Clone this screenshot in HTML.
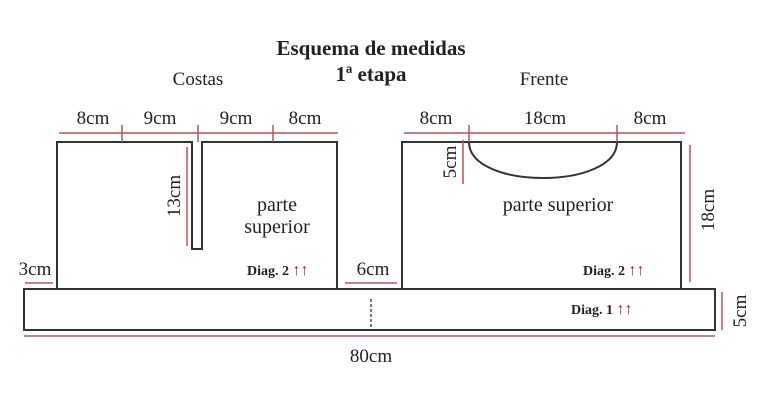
<!DOCTYPE html>
<html><head><meta charset="utf-8"><style>
html,body{margin:0;padding:0;background:#fff;width:773px;height:415px;overflow:hidden}
</style></head><body>
<svg width="773" height="415" xmlns="http://www.w3.org/2000/svg" font-family="Liberation Serif, serif">
<g fill="none" stroke="#333" stroke-width="2">
<path d="M57,289 V142 H192 V249 H202 V142 H337 V289"/>
<path d="M402,289 V142 H681 V289"/>
<rect x="24" y="289" width="691" height="41"/>
<path d="M469,142 C469,190 617,190 617,142"/>
</g>
<g stroke="#333" stroke-width="1.3" stroke-dasharray="3,2" fill="none">
<path d="M57,289 H337 M402,289 H681 M371,299 V330"/>
</g>
<g stroke="#c0505a" stroke-width="1.5" fill="none">
<path d="M59,133 H338 M122,125 V142 M198,125 V142 M273,125 V142"/>
<path d="M187,147 V246"/>
<path d="M25,283 H53 M345,283 H397"/>
<path d="M404,133 H685 M469,125 V142 M617,125 V142"/>
<path d="M463,140 V184 M690,145 V282 M722,292 V330"/>
<path d="M24,336 H715"/>
</g>
<g fill="#222" font-size="19">
<text x="371" y="55" text-anchor="middle" font-weight="bold" font-size="21">Esquema de medidas</text>
<text x="371" y="81" text-anchor="middle" font-weight="bold" font-size="21">1ª etapa</text>
<text x="198" y="85" text-anchor="middle">Costas</text>
<text x="544" y="85" text-anchor="middle">Frente</text>
<text x="93" y="124" text-anchor="middle">8cm</text>
<text x="160" y="124" text-anchor="middle">9cm</text>
<text x="236" y="124" text-anchor="middle">9cm</text>
<text x="305" y="124" text-anchor="middle">8cm</text>
<text x="436" y="124" text-anchor="middle">8cm</text>
<text x="545" y="124" text-anchor="middle">18cm</text>
<text x="650" y="124" text-anchor="middle">8cm</text>
<text x="35" y="275" text-anchor="middle">3cm</text>
<text x="373" y="275" text-anchor="middle">6cm</text>
<text x="371" y="362" text-anchor="middle">80cm</text>
<text transform="translate(180,196) rotate(-90)" text-anchor="middle">13cm</text>
<text transform="translate(456,162) rotate(-90)" text-anchor="middle">5cm</text>
<text transform="translate(714,210) rotate(-90)" text-anchor="middle">18cm</text>
<text transform="translate(746,311) rotate(-90)" text-anchor="middle">5cm</text>
<text x="277" y="211" text-anchor="middle" font-size="20">parte</text>
<text x="277" y="233" text-anchor="middle" font-size="20">superior</text>
<text x="558" y="211" text-anchor="middle" font-size="20">parte superior</text>
<g font-size="14" font-weight="bold">
<text x="247" y="275">Diag. 2 <tspan fill="#b0202a" font-size="16">↑↑</tspan></text>
<text x="583" y="275">Diag. 2 <tspan fill="#b0202a" font-size="16">↑↑</tspan></text>
<text x="571" y="314">Diag. 1 <tspan fill="#b0202a" font-size="16">↑↑</tspan></text>
</g>
</g>
</svg>
</body></html>
